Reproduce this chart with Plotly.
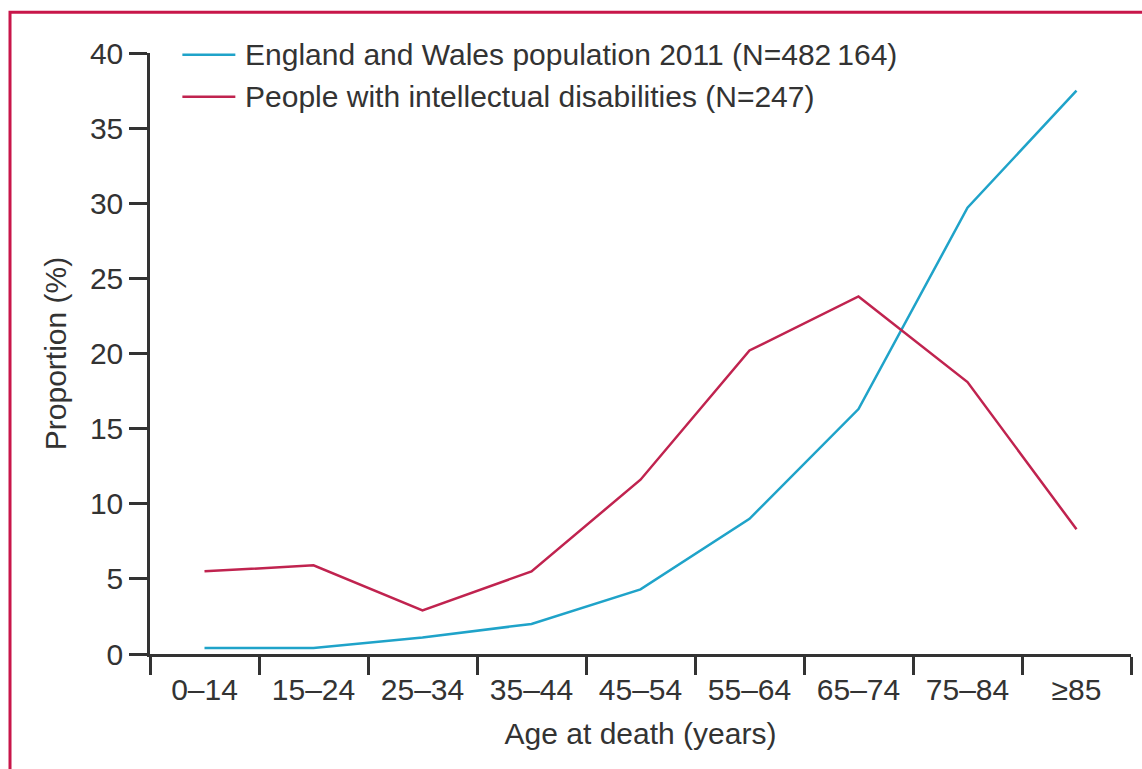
import plotly.graph_objects as go

# Age bands at death
age_bands = ["0–14", "15–24", "25–34", "35–44", "45–54", "55–64", "65–74", "75–84", "≥85"]

# Proportion of deaths (%) in each age band
england_wales_2011 = [0.4, 0.4, 1.1, 2.0, 4.3, 9.0, 16.3, 29.7, 37.5]
intellectual_disabilities = [5.5, 5.9, 2.9, 5.5, 11.6, 20.2, 23.8, 18.1, 8.3]

series_names = [
    "England and Wales population 2011 (N=482\u2009164)",
    "People with intellectual disabilities (N=247)",
]

BLUE = "#1fa3c9"
RED = "#c0234f"
FRAME = "#c8164a"
INK = "#333333"
FONT = "Liberation Sans Narrow, Liberation Sans, Arial, sans-serif"
SIZE = 30

fig = go.Figure()
fig.add_trace(go.Scatter(x=age_bands, y=england_wales_2011, mode="lines",
                         line=dict(color=BLUE, width=2.5), name=series_names[0]))
fig.add_trace(go.Scatter(x=age_bands, y=intellectual_disabilities, mode="lines",
                         line=dict(color=RED, width=2.5), name=series_names[1]))

# Hand-placed legend in the upper-left corner of the plot area
legend_rows = [(series_names[0], BLUE, 0.997), (series_names[1], RED, 0.927)]
shapes = []
annotations = []
for text, color, yy in legend_rows:
    shapes.append(dict(type="line", xref="paper", yref="paper",
                       x0=0.033, x1=0.087, y0=yy, y1=yy,
                       line=dict(color=color, width=2.5)))
    annotations.append(dict(xref="paper", yref="paper", x=0.095, y=yy,
                            text=text, showarrow=False, xanchor="left",
                            yanchor="middle",
                            font=dict(family=FONT, size=SIZE, color=INK)))

# Crimson frame around the figure panel
shapes.append(dict(type="rect", xref="paper", yref="paper",
                   x0=-0.1427, x1=1.05, y0=-0.3, y1=1.068,
                   line=dict(color=FRAME, width=3), layer="below"))

fig.update_layout(
    width=1142, height=769,
    margin=dict(l=150, r=11, t=53, b=115),
    paper_bgcolor="white", plot_bgcolor="white",
    showlegend=False,
    shapes=shapes,
    annotations=annotations,
    font=dict(family=FONT, size=SIZE, color=INK),
    xaxis=dict(
        type="category", range=[-0.5, 8.5], tickson="boundaries",
        ticks="outside", ticklen=18, tickwidth=2.5, tickcolor="#333",
        ticklabelstandoff=7,
        showline=True, linewidth=2.5, linecolor="#333",
        showgrid=False, zeroline=False,
        title=dict(text="Age at death (years)", standoff=19,
                   font=dict(family=FONT, size=SIZE, color=INK)),
        tickfont=dict(family=FONT, size=SIZE, color=INK),
    ),
    yaxis=dict(
        range=[0, 40], tickvals=[0, 5, 10, 15, 20, 25, 30, 35, 40],
        ticks="outside", ticklen=18, tickwidth=2.5, tickcolor="#333",
        showline=True, linewidth=2.5, linecolor="#333",
        showgrid=False, zeroline=False,
        title=dict(text="Proportion (%)", standoff=15,
                   font=dict(family=FONT, size=SIZE, color=INK)),
        tickfont=dict(family=FONT, size=SIZE, color=INK),
    ),
)

fig.write_html("out.html")
